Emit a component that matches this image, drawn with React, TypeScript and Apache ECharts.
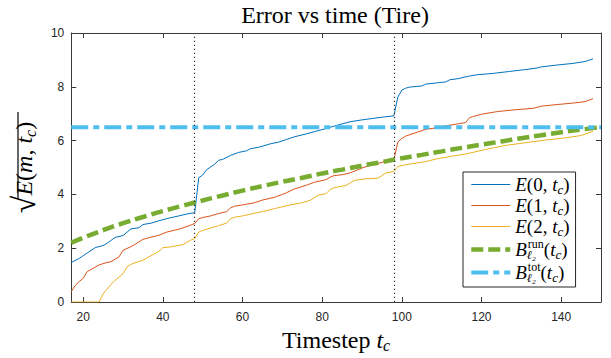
import React, { useEffect, useRef } from 'react';
import * as echarts from 'echarts';

// ---- data ----
const xTicks = [20, 40, 60, 80, 100, 120, 140];
const eventSteps = [48, 98];

const e0Steps = [17, 19, 20, 21, 23, 25, 26, 28, 30, 32, 34, 35, 37, 39, 41, 44, 46, 48, 49, 50, 51, 52, 53, 54, 55, 57, 59, 61, 62, 64, 67, 69, 71, 73, 76, 78, 81, 83, 85, 87, 90, 92, 95, 98, 99, 100, 101, 102, 105, 106, 109, 111, 112, 114, 117, 119, 123, 127, 131, 134, 135, 139, 143, 146, 148];
const e0Values = [1.47, 1.62, 1.72, 1.82, 2.02, 2.1, 2.18, 2.4, 2.47, 2.72, 2.76, 2.88, 2.93, 3.02, 3.1, 3.2, 3.27, 3.32, 4.62, 4.72, 4.92, 5.02, 5.12, 5.27, 5.3, 5.45, 5.56, 5.62, 5.7, 5.75, 5.88, 5.94, 6.04, 6.14, 6.25, 6.33, 6.45, 6.54, 6.62, 6.7, 6.77, 6.81, 6.87, 6.92, 7.62, 7.88, 7.95, 7.99, 8.03, 8.1, 8.15, 8.18, 8.26, 8.3, 8.4, 8.45, 8.5, 8.57, 8.64, 8.7, 8.74, 8.81, 8.87, 8.94, 9.04];

const e1Steps = [17, 18, 19, 20, 21, 22, 24, 26, 27, 29, 30, 32, 33, 35, 37, 39, 41, 43, 45, 47, 48, 49, 50, 52, 54, 56, 57, 58, 60, 63, 65, 68, 70, 71, 73, 76, 78, 81, 82, 83, 85, 87, 90, 92, 95, 98, 99, 100, 101, 104, 106, 109, 111, 114, 116, 117, 118, 120, 124, 128, 133, 135, 139, 144, 146, 148];
const e1Values = [0.38, 0.62, 0.76, 0.88, 1.13, 1.21, 1.38, 1.47, 1.5, 1.68, 1.92, 2.06, 2.14, 2.33, 2.41, 2.48, 2.6, 2.67, 2.75, 2.86, 2.92, 3.1, 3.14, 3.2, 3.29, 3.36, 3.5, 3.56, 3.61, 3.69, 3.79, 3.89, 4.0, 4.06, 4.2, 4.34, 4.45, 4.55, 4.64, 4.7, 4.73, 4.8, 4.98, 5.08, 5.19, 5.29, 5.95, 6.08, 6.17, 6.32, 6.42, 6.48, 6.55, 6.62, 6.67, 6.85, 6.9, 6.98, 7.08, 7.14, 7.2, 7.28, 7.34, 7.41, 7.45, 7.56];

const e2Steps = [17, 24, 25, 26, 27, 28, 30, 31, 32, 33, 35, 37, 39, 40, 42, 45, 46, 47, 48, 49, 50, 52, 54, 56, 57, 58, 60, 63, 65, 68, 72, 75, 77, 79, 81, 82, 83, 86, 88, 91, 94, 96, 98, 99, 102, 106, 109, 113, 116, 121, 126, 131, 136, 141, 145, 148];
const e2Values = [0, 0, 0.3, 0.48, 0.66, 0.8, 1.05, 1.3, 1.4, 1.46, 1.55, 1.72, 1.88, 2.02, 2.05, 2.13, 2.22, 2.3, 2.36, 2.6, 2.66, 2.75, 2.84, 2.93, 3.1, 3.15, 3.2, 3.3, 3.36, 3.47, 3.61, 3.69, 3.78, 3.97, 4.03, 4.18, 4.25, 4.33, 4.52, 4.58, 4.6, 4.8, 4.85, 5.04, 5.13, 5.22, 5.33, 5.43, 5.5, 5.67, 5.82, 5.92, 6.02, 6.1, 6.19, 6.35];

const bRunSteps = [17, 20, 25, 30, 35, 40, 45, 48, 55, 60, 65, 70, 75, 80, 85, 90, 95, 98, 105, 110, 115, 120, 125, 130, 135, 140, 145, 150];
const bRunValues = [2.2, 2.39, 2.67, 2.93, 3.16, 3.38, 3.58, 3.7, 3.96, 4.14, 4.31, 4.47, 4.62, 4.78, 4.92, 5.07, 5.2, 5.29, 5.47, 5.6, 5.73, 5.85, 5.97, 6.09, 6.2, 6.31, 6.41, 6.5];

const bTotSteps = [17, 150];
const bTotValues = [6.5, 6.5];

const pairs = (s: number[], v: number[]) => s.map((t, i) => [t, v[i]]);

const serif = "'Liberation Serif', 'Times New Roman', serif";
const sans = "'Liberation Sans', Arial, Helvetica, sans-serif";
const axisColor = '#3a3a3a';
const tickColor = '#262626';

const legendRich = {
  it: { fontFamily: serif, fontStyle: 'italic', fontSize: 19, lineHeight: 23, color: '#000' },
  rm: { fontFamily: serif, fontSize: 19, lineHeight: 23, color: '#000' },
  sub: { fontFamily: serif, fontStyle: 'italic', fontSize: 13, lineHeight: 11, verticalAlign: 'bottom', color: '#000' },
  subw: { fontFamily: serif, fontStyle: 'italic', fontSize: 12, lineHeight: 9, verticalAlign: 'bottom', width: 1, color: '#000' },
  sup: { fontFamily: serif, fontSize: 12, lineHeight: 10, verticalAlign: 'top', color: '#000' },
};

const legendLabels: Record<string, string> = {
  E0: '{it|E}{rm|(0, }{it|t}{sub|c}{rm|)}',
  E1: '{it|E}{rm|(1, }{it|t}{sub|c}{rm|)}',
  E2: '{it|E}{rm|(2, }{it|t}{sub|c}{rm|)}',
  Brun: '{it|B}{subw|ℓ₂}{sup|run}{rm|(}{it|t}{sub|c}{rm|)}',
  Btot: '{it|B}{subw|ℓ₂}{sup|tot}{rm|(}{it|t}{sub|c}{rm|)}',
};

export default function App() {
  const ref = useRef<HTMLDivElement>(null);
  useEffect(() => {
    if (!ref.current) return;
    const chart = echarts.init(ref.current, undefined, { renderer: 'svg' });
    const tickCommon = {
      show: true,
      inside: true,
      length: 5,
      lineStyle: { color: axisColor, width: 1 },
    };
    chart.setOption({
      animation: false,
      backgroundColor: '#fff',
      title: {
        text: 'Error vs time (Tire)',
        left: 335,
        top: 0,
        padding: [3, 0, 0, 0],
        textAlign: 'center',
        textStyle: { fontFamily: serif, fontSize: 24, fontWeight: 'normal', color: '#000' },
      },
      grid: { left: 69, right: 10, top: 33, bottom: 51, containLabel: false },
      legend: {
        orient: 'vertical',
        left: 463,
        top: 172,
        padding: [3, 6, 3, 6],
        itemGap: 0,
        itemWidth: 39,
        itemHeight: 14,
        backgroundColor: '#fff',
        borderColor: '#262626',
        borderWidth: 1,
        borderRadius: 0,
        lineStyle: { width: 'inherit' },
        itemStyle: { opacity: 0, borderWidth: 0 },
        data: ['E0', 'E1', 'E2', 'Brun', 'Btot'],
        formatter: (name: string) => legendLabels[name],
        textStyle: { rich: legendRich },
      },
      xAxis: [
        {
          type: 'value',
          position: 'bottom',
          min: 17,
          max: 150,
          axisLine: { show: true, onZero: false, lineStyle: { color: axisColor, width: 1 } },
          axisTick: { ...tickCommon, customValues: xTicks },
          axisLabel: { customValues: xTicks, margin: 9, color: tickColor, fontSize: 12, fontFamily: sans },
          splitLine: { show: false },
          name: '{rm|Timestep }{it|t}{sub|c}',
          nameLocation: 'middle',
          nameGap: 25,
          nameTextStyle: {
            rich: {
              rm: { fontFamily: serif, fontSize: 24, lineHeight: 26, color: '#000' },
              it: { fontFamily: serif, fontStyle: 'italic', fontSize: 24, lineHeight: 26, color: '#000' },
              sub: { fontFamily: serif, fontStyle: 'italic', fontSize: 16, lineHeight: 13, verticalAlign: 'bottom', color: '#000' },
            },
          },
        },
        {
          type: 'value',
          position: 'top',
          min: 17,
          max: 150,
          axisLine: { show: true, onZero: false, lineStyle: { color: axisColor, width: 1 } },
          axisTick: { ...tickCommon, customValues: xTicks },
          axisLabel: { show: false },
          splitLine: { show: false },
        },
      ],
      yAxis: [
        {
          type: 'value',
          position: 'left',
          min: 0,
          max: 10,
          interval: 2,
          axisLine: { show: true, onZero: false, lineStyle: { color: axisColor, width: 1 } },
          axisTick: tickCommon,
          axisLabel: { margin: 7, color: tickColor, fontSize: 12, fontFamily: sans },
          splitLine: { show: false },
          name: '{rad|√}{it|E}{rm|(}{it|m}{rm|, }{it|t}{sub|c}{rm|)}',
          nameLocation: 'middle',
          nameRotate: 90,
          nameGap: 24,
          nameTextStyle: {
            rich: {
              rad: { fontFamily: serif, fontSize: 32, lineHeight: 28, color: '#000' },
              rm: { fontFamily: serif, fontSize: 24, lineHeight: 26, color: '#000' },
              it: { fontFamily: serif, fontStyle: 'italic', fontSize: 24, lineHeight: 26, color: '#000' },
              sub: { fontFamily: serif, fontStyle: 'italic', fontSize: 16, lineHeight: 13, verticalAlign: 'bottom', color: '#000' },
            },
          },
        },
        {
          type: 'value',
          position: 'right',
          min: 0,
          max: 10,
          interval: 2,
          axisLine: { show: true, onZero: false, lineStyle: { color: axisColor, width: 1 } },
          axisTick: tickCommon,
          axisLabel: { show: false },
          splitLine: { show: false },
        },
      ],
      graphic: [
        {
          type: 'line',
          shape: { x1: 18, y1: 112, x2: 18, y2: 199 },
          style: { stroke: '#000', lineWidth: 1.2 },
          silent: true,
        },
      ],
      series: [
        {
          name: 'E0',
          type: 'line',
          data: pairs(e0Steps, e0Values),
          symbol: 'none',
          lineStyle: { color: '#0072BD', width: 1 },
          itemStyle: { color: '#0072BD' },
          markLine: {
            silent: true,
            symbol: ['none', 'none'],
            label: { show: false },
            lineStyle: { color: '#333', width: 1.2, type: [1.2, 2.8] },
            data: eventSteps.map((s) => ({ xAxis: s })),
          },
        },
        {
          name: 'E1',
          type: 'line',
          data: pairs(e1Steps, e1Values),
          symbol: 'none',
          lineStyle: { color: '#D95319', width: 1 },
          itemStyle: { color: '#D95319' },
        },
        {
          name: 'E2',
          type: 'line',
          data: pairs(e2Steps, e2Values),
          symbol: 'none',
          lineStyle: { color: '#EDB120', width: 1 },
          itemStyle: { color: '#EDB120' },
        },
        {
          name: 'Brun',
          type: 'line',
          data: pairs(bRunSteps, bRunValues),
          symbol: 'none',
          smooth: true,
          lineStyle: { color: '#77AC30', width: 4.5, type: [12, 5] },
          itemStyle: { color: '#77AC30' },
        },
        {
          name: 'Btot',
          type: 'line',
          data: pairs(bTotSteps, bTotValues),
          symbol: 'none',
          lineStyle: { color: '#4DBEEE', width: 4, type: [17, 5, 6, 5] },
          itemStyle: { color: '#4DBEEE' },
        },
      ],
    });
    return () => chart.dispose();
  }, []);
  return (
    <div
      ref={ref}
      style={{ position: 'fixed', left: 0, top: 0, width: 611, height: 358, background: '#fff' }}
    />
  );
}
